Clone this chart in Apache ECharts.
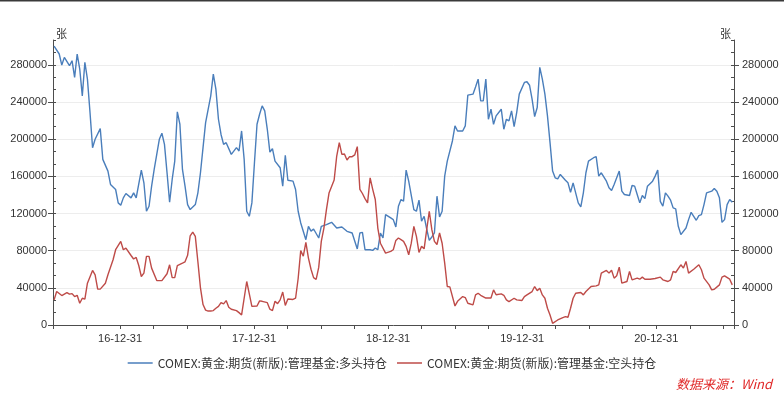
<!DOCTYPE html>
<html>
<head>
<meta charset="utf-8">
<script src="https://cdn.jsdelivr.net/npm/echarts@6/dist/echarts.min.js"></script>
<style>html,body{margin:0;padding:0;background:#fff}#c{width:784px;height:393px}</style>
</head>
<body>
<div id="c"></div>
<script>
// weekly observations, week index counted from the first report date
const firstWeek = '2016-07-05';
const xTickLabels = ['16-12-31', '17-12-31', '18-12-31', '19-12-31', '20-12-31'];
const unitName = '张';
const longName = 'COMEX:黄金:期货(新版):管理基金:多头持仓';
const shortName = 'COMEX:黄金:期货(新版):管理基金:空头持仓';
const sourceText = '数据来源：Wind';

const longWeeks = [0,2,3,4,6,7,8,9,10,11,12,13,14,15,16,18,19,21,22,24,25,26,27,28,30,31,32,34,35,36,37,38,39,40,41,42,43,44,45,46,47,48,49,50,51,52,53,55,56,57,58,59,61,62,63,64,65,66,67,69,71,72,73,74,75,76,77,78,79,80,81,82,83,84,85,86,88,89,90,91,93,94,95,96,98,99,100,101,103,104,106,108,110,112,114,116,118,119,120,121,123,124,125,126,127,128,129,131,132,133,134,135,136,137,138,140,141,142,143,144,145,146,147,148,149,150,151,152,153,155,156,157,159,160,161,163,164,165,166,167,168,169,170,171,172,174,175,176,177,178,179,180,181,183,184,185,186,187,188,189,190,191,192,193,194,195,196,197,199,200,201,202,203,204,205,206,207,208,210,211,212,213,215,216,217,218,220,221,222,224,225,226,227,228,229,230,231,233,234,235,236,237,238,239,240,241,242,243,244,246,247,248,250,251,252,253,254,256,257,258,259,260,261,262,263,264];
const longValues = [300000,291600,279700,288000,279000,284400,266400,291600,275400,246600,282600,264600,229000,190800,199800,211300,178200,165600,151200,145800,131400,128900,136800,141500,136800,142200,136800,166700,153000,122400,127800,149400,167400,183600,199800,206300,194400,163800,132100,156600,176400,229300,216000,167400,149400,129600,124200,129600,142200,163800,190800,217800,246600,270000,253800,221400,205000,194400,196200,183600,190800,187200,208800,178200,122400,117000,131400,174600,216000,226800,235800,230400,210600,186100,189700,176400,169200,149400,182500,155800,154800,145800,122400,109800,91800,106200,101000,103300,93600,106200,108000,110500,104400,105500,100800,99000,81800,99000,99700,81000,81000,80300,82800,81000,99000,93600,118800,115200,113400,105500,127800,135000,133200,166700,154800,124200,122400,134300,111600,117000,103300,91100,94700,99000,138600,116300,122400,160200,176400,198000,214200,208800,208800,214200,247300,248400,256000,264600,241200,241200,264600,221400,232200,216000,225000,232200,210600,221400,219600,230400,213500,228600,248400,261000,261700,258000,243000,224300,234000,277200,264600,248400,225000,196200,165600,158400,157300,162000,155700,153000,142900,153000,142200,131400,127100,142200,163800,176400,180000,181100,160200,163800,154800,147600,144700,151200,165600,144000,140400,139300,150100,149400,140400,131400,139300,136000,149400,154800,160200,166700,133000,127800,142200,138600,134300,126000,125000,106200,97200,104400,113400,121300,112700,117700,118800,129600,142200,144000,146900,144000,136800,110500,113400,129600,135000,132000];

const shortWeeks = [0,1,3,5,6,7,8,9,10,11,12,13,15,16,17,18,20,21,23,24,26,27,28,30,31,32,33,34,35,36,37,38,40,42,44,45,46,47,48,50,51,52,53,54,55,56,57,58,59,60,61,62,63,64,65,66,67,68,69,71,72,73,75,76,77,79,80,81,83,84,85,86,87,88,89,90,91,93,94,95,96,97,98,99,100,101,102,103,104,105,106,107,109,110,111,112,113,114,115,116,117,118,119,120,121,122,123,124,125,126,127,129,131,132,133,134,135,136,137,138,139,140,141,142,143,144,145,146,147,148,149,150,151,152,153,154,156,157,159,160,161,163,164,165,166,168,170,171,172,174,175,176,177,179,180,182,183,184,186,187,188,189,190,191,192,193,194,196,198,199,200,201,202,203,205,206,207,209,211,212,213,215,216,217,218,219,220,221,223,224,225,227,228,229,230,232,234,236,237,239,240,241,242,244,245,246,247,249,251,252,253,255,256,257,259,260,261,263,264];
const shortValues = [27000,36000,31700,34900,33200,33800,30600,32000,23400,28800,27800,45000,58700,54000,38600,38600,45000,54000,70200,81000,90000,81000,82800,74800,71000,72700,64000,52200,55800,73800,73800,61200,47800,47800,55100,64800,51000,51000,64000,66600,68000,75000,96000,100000,95400,68000,40000,22000,16000,15000,15100,15500,18000,20000,24000,22700,26300,19100,17000,15500,13300,10800,46800,33500,20000,20500,26000,25500,24000,17000,15500,25500,23000,27000,35500,21000,28000,27500,28800,50000,80000,74000,89000,72000,60000,51000,49000,62000,90000,104000,124200,142000,156000,181800,196200,183600,184000,177500,181100,181100,183000,191900,146000,141500,136000,131400,158400,146000,135000,104000,88000,77400,79200,81000,91000,93600,91800,90000,84600,75600,88000,106200,95400,78100,84600,82000,102600,122400,102600,90000,86600,99000,88000,66600,41400,41000,20500,25500,30600,29500,23400,21600,32400,34200,32000,29000,29000,37800,32500,33500,32000,27000,25200,28800,27000,26300,30600,32400,36000,41400,37000,39500,32400,28800,18000,10800,1800,5400,8000,9000,8300,18000,28800,34200,34900,32400,36000,41400,42100,43200,55800,58700,55800,59000,50400,53000,62300,45000,46800,57600,48600,50400,49300,51500,49300,49300,50000,51500,48600,46800,48600,57600,56500,64800,61200,68400,55800,60000,64800,59400,50400,43200,37800,38500,43200,51500,52900,49300,43200];

// ---- build library inputs ----
const DAY = 86400000;
const firstMs = Date.parse(firstWeek);
function weekToYear(w) {
  const d = new Date(firstMs + w * 7 * DAY);
  const y = d.getUTCFullYear();
  const s = Date.UTC(y, 0, 1), e = Date.UTC(y + 1, 0, 1);
  return y + (d.getTime() - s) / (e - s);
}
const pairs = (ws, vs) => ws.map((w, i) => [weekToYear(w), vs[i]]);

const yStep = 40000;
const yMinor = yStep / 3;
const yMax = yMinor * 23;
const axisColor = '#4d4d4d';
const numFont = 'Liberation Sans';
const cjkFont = 'Noto Sans CJK SC';
const longColor = '#4A7EBB';
const shortColor = '#BE4B48';

const yLabelFmt = v => {
  const r = Math.round(v);
  return (Math.abs(v - r) < 1e-3 && r % yStep === 0) ? String(r) : '';
};
const xLabelFmt = v => {
  const yr = Math.round(v);
  if (Math.abs(v - yr) > 1e-6) return '';
  return xTickLabels[yr - 2017] || '';
};

function majorY(pos, margin) {
  return {
    type: 'value', position: pos, min: 0, max: yMax, interval: yStep,
    name: unitName, nameLocation: 'end', nameGap: 1,
    nameTextStyle: { color: '#333', fontSize: 11, fontFamily: cjkFont,
      align: pos === 'left' ? 'left' : 'right', verticalAlign: 'bottom',
      padding: pos === 'left' ? [0, 0, 0, 3] : [0, 3, 0, 0] },
    axisLine: { show: true, lineStyle: { color: axisColor, width: 1 } },
    axisTick: { show: true, length: 5, lineStyle: { color: axisColor } },
    axisLabel: { margin: margin, showMaxLabel: false, color: '#333', fontSize: 11,
      fontFamily: numFont, formatter: yLabelFmt },
    splitLine: { show: pos === 'left', showMaxLine: false, lineStyle: { color: '#ededed', width: 1 } }
  };
}
function minorY(pos) {
  return {
    type: 'value', position: pos, min: 0, max: yMax, interval: yMinor,
    axisLine: { show: false },
    axisTick: { show: true, inside: true, length: 3, lineStyle: { color: axisColor } },
    axisLabel: { show: false }, splitLine: { show: false }
  };
}

const chart = echarts.init(document.getElementById('c'), null, { renderer: 'canvas' });
chart.setOption({
  animation: false,
  backgroundColor: '#fff',
  grid: { left: 53, right: 50, top: 40, bottom: 68 },
  legend: {
    left: 'center', top: 352, itemWidth: 25, itemHeight: 1.5, itemGap: 10,
    icon: 'rect',
    textStyle: { color: '#333', fontSize: 12, fontFamily: cjkFont, padding: [0, 0, 0, 0] },
    data: [{ name: longName, itemStyle: { color: longColor } }, { name: shortName, itemStyle: { color: shortColor } }]
  },
  xAxis: {
    type: 'value', min: 2016.5, max: 2021.58, interval: 0.25,
    axisLine: { show: true, lineStyle: { color: axisColor, width: 1 } },
    axisTick: { show: true, length: 4, lineStyle: { color: axisColor } },
    axisLabel: { margin: 8, color: '#333', fontSize: 11, fontFamily: numFont, formatter: xLabelFmt },
    splitLine: { show: false }
  },
  yAxis: [majorY('left', 6), minorY('left'), majorY('right', 8), minorY('right')],
  series: [
    { name: longName, type: 'line', xAxisIndex: 0, yAxisIndex: 0, symbol: 'none',
      data: pairs(longWeeks, longValues),
      itemStyle: { color: longColor }, lineStyle: { color: longColor, width: 1.4 } },
    { name: shortName, type: 'line', xAxisIndex: 0, yAxisIndex: 0, symbol: 'none',
      data: pairs(shortWeeks, shortValues),
      itemStyle: { color: shortColor }, lineStyle: { color: shortColor, width: 1.4 } }
  ],
  graphic: [
    { type: 'rect', left: 0, top: 0, shape: { width: 784, height: 1.5 }, style: { fill: '#3a3a3a' } },
    { type: 'text', right: 12, top: 378,
      style: { text: sourceText, fill: '#E02828', font: 'italic 13px "Noto Sans CJK SC"' } }
  ]
});
</script>
</body>
</html>
